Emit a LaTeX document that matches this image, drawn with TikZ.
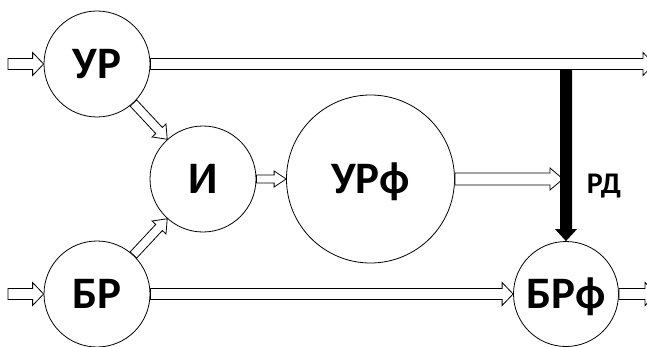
\documentclass[tikz,border=0pt]{standalone}
\usepackage{fontspec}
\setmainfont{Carlito}
\usetikzlibrary{calc}

% Block arrow from point #2 to point #3:
% #4 = half shaft width, #5 = half head width, #6 = head length (all in pt)
\newcommand\flowarrow[6][hollowarrow]{%
  \path[#1] let \p1=(#2), \p2=(#3),
    \n1={veclen(\x2-\x1,\y2-\y1)}, \n2={atan2(\y2-\y1,\x2-\x1)} in
    {[shift={(\p1)}, rotate=\n2]
      (0pt,-#4pt) -- (\n1-#6pt,-#4pt) -- (\n1-#6pt,-#5pt) -- (\n1+0pt,0pt)
      -- (\n1-#6pt,#5pt) -- (\n1-#6pt,#4pt) -- (0pt,#4pt) -- cycle};}

\tikzset{
  stage/.style={circle, draw=black, line width=0.8pt, fill=white, inner sep=0pt,
    font=\bfseries\fontsize{45}{45}\selectfont, text height=29pt, text depth=0pt},
  hollowarrow/.style={draw=black, fill=white, line width=0.8pt, line join=miter},
  blackarrow/.style={fill=black},
}

\begin{document}
\begin{tikzpicture}[x=1pt,y=1pt]
  \useasboundingbox (0,0) rectangle (647,346);
  \clip (0,0) rectangle (647,346);
  \fill[white] (0,0) rectangle (647,346);

  % stages
  \node[stage, minimum size=106pt] (ur)  at (97,282)    {УР};
  \node[stage, minimum size=106pt] (i)   at (203,167)   {И};
  \node[stage, minimum size=168pt] (urf) at (370.5,167) {УРф};
  \node[stage, minimum size=106pt] (br)  at (97,52)     {БР};
  \node[stage, minimum size=105pt] (brf) at (566,52)    {БРф};
  \node[font=\bfseries\fontsize{30}{30}\selectfont, text height=19pt, text depth=0pt]
    (rd) at (604,162) {РД};

  % free ends
  \coordinate (urin)   at (8,282);
  \coordinate (urout)  at (654,282);
  \coordinate (brin)   at (8,52);
  \coordinate (brfout) at (656,52);
  \coordinate (urfout) at (563,167);
  \coordinate (rdtop)  at (566,276);

  % flows
  \flowarrow{urin}{ur.west}{5.5}{11.5}{11}
  \flowarrow{brin}{br.west}{5.5}{11.5}{11}
  \flowarrow{ur.east}{urout}{5.5}{11.5}{11}
  \flowarrow{ur.-47.3}{i.132.7}{4.5}{9.5}{12}
  \flowarrow{br.47.6}{i.-132.4}{4.5}{9.5}{12}
  \flowarrow{i.east}{urf.west}{4}{8}{12}
  \flowarrow{urf.east}{urfout}{6}{11}{13}
  \flowarrow{br.east}{brf.west}{5.5}{11.5}{11}
  \flowarrow{brf.east}{brfout}{5.5}{11.5}{11}

  % control signal
  \flowarrow[blackarrow]{rdtop}{brf.north}{6}{11}{12}
\end{tikzpicture}
\end{document}
